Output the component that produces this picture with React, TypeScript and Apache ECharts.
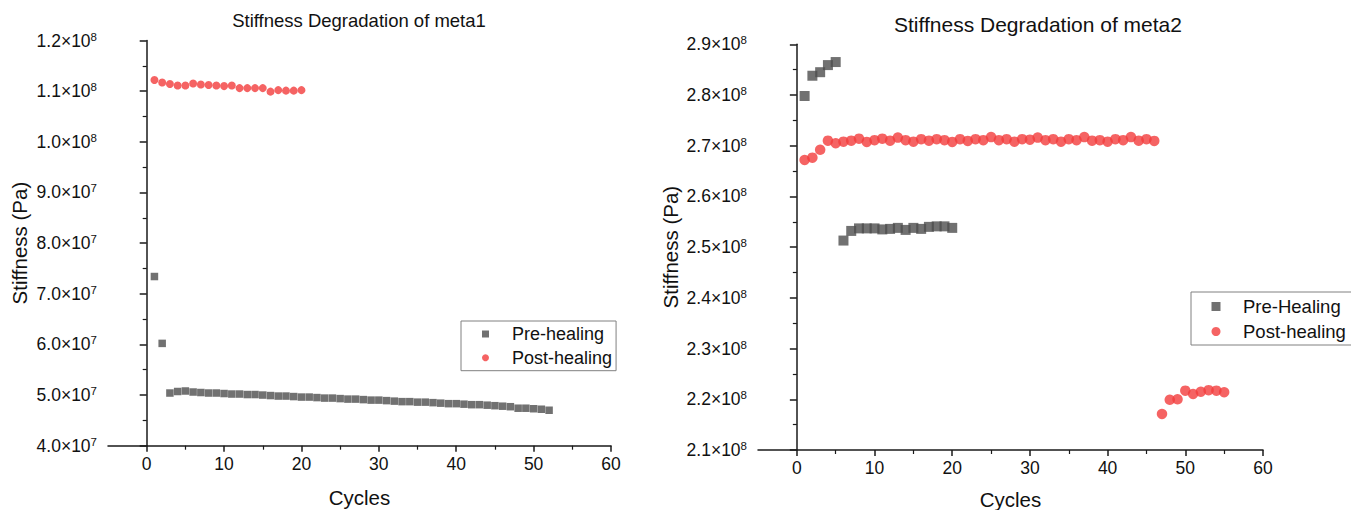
import React, { useEffect, useRef } from 'react';
import * as echarts from 'echarts';

const FONT = '"Liberation Sans", Arial, sans-serif';

// meta1
const meta1PreCycles = [1,2,3,4,5,6,7,8,9,10,11,12,13,14,15,16,17,18,19,20,21,22,23,24,25,26,27,28,29,30,31,32,33,34,35,36,37,38,39,40,41,42,43,44,45,46,47,48,49,50,51,52];
const meta1PreValues = [7.34e7,6.02e7,5.04e7,5.07e7,5.08e7,5.06e7,5.05e7,5.04e7,5.04e7,5.03e7,5.02e7,5.02e7,5.01e7,5.01e7,5.00e7,4.99e7,4.98e7,4.98e7,4.97e7,4.96e7,4.96e7,4.95e7,4.94e7,4.94e7,4.93e7,4.92e7,4.92e7,4.91e7,4.90e7,4.90e7,4.89e7,4.88e7,4.87e7,4.87e7,4.86e7,4.86e7,4.85e7,4.84e7,4.83e7,4.83e7,4.82e7,4.81e7,4.81e7,4.80e7,4.79e7,4.78e7,4.77e7,4.74e7,4.74e7,4.73e7,4.72e7,4.70e7];
const meta1PostCycles = [1,2,3,4,5,6,7,8,9,10,11,12,13,14,15,16,17,18,19,20];
const meta1PostValues = [1.122e8,1.117e8,1.114e8,1.111e8,1.111e8,1.115e8,1.113e8,1.112e8,1.111e8,1.110e8,1.111e8,1.106e8,1.106e8,1.106e8,1.106e8,1.099e8,1.102e8,1.101e8,1.101e8,1.102e8];

// meta2
const meta2PreCycles = [1,2,3,4,5,6,7,8,9,10,11,12,13,14,15,16,17,18,19,20];
const meta2PreValues = [2.798e8,2.838e8,2.845e8,2.859e8,2.865e8,2.513e8,2.532e8,2.537e8,2.537e8,2.537e8,2.535e8,2.536e8,2.538e8,2.534e8,2.538e8,2.536e8,2.540e8,2.541e8,2.541e8,2.538e8];
const meta2PostCycles = [1,2,3,4,5,6,7,8,9,10,11,12,13,14,15,16,17,18,19,20,21,22,23,24,25,26,27,28,29,30,31,32,33,34,35,36,37,38,39,40,41,42,43,44,45,46,47,48,49,50,51,52,53,54,55];
const meta2PostValues = [2.672e8,2.6765e8,2.692e8,2.710e8,2.705e8,2.708e8,2.710e8,2.714e8,2.7075e8,2.711e8,2.714e8,2.710e8,2.716e8,2.711e8,2.708e8,2.713e8,2.710e8,2.713e8,2.711e8,2.7075e8,2.713e8,2.7095e8,2.713e8,2.711e8,2.717e8,2.711e8,2.713e8,2.708e8,2.713e8,2.712e8,2.716e8,2.711e8,2.713e8,2.708e8,2.713e8,2.711e8,2.717e8,2.710e8,2.711e8,2.708e8,2.713e8,2.711e8,2.717e8,2.710e8,2.713e8,2.7095e8,2.171e8,2.199e8,2.200e8,2.217e8,2.2105e8,2.215e8,2.218e8,2.217e8,2.214e8];

const xMajorTicks = [0, 10, 20, 30, 40, 50, 60];
const xMinorTicks = [5, 15, 25, 35, 45, 55];

const PRE_COLOR = '#4d4d4d';
const POST_COLOR = '#f23c3c';
const AXIS_COLOR = '#1a1a1a';

const pairs = (xs: number[], ys: number[]) => xs.map((x, i) => [x, ys[i]]);

const sciLabel = (v: number) => {
  const exp = Math.floor(Math.log10(v) + 1e-9);
  const mant = (v / Math.pow(10, exp)).toFixed(1);
  return `{m|${mant}×10}{e|${exp}}`;
};

const labelRich = {
  m: { fontSize: 17.5, fontFamily: FONT, color: '#111', lineHeight: 20 },
  e: { fontSize: 11.5, fontFamily: FONT, color: '#111', verticalAlign: 'top', lineHeight: 12 },
};

function xAxes(gridIndex: number, nameGap: number) {
  return [
    {
      type: 'value', gridIndex, min: -5, max: 60, position: 'bottom',
      name: 'Cycles', nameLocation: 'middle', nameGap,
      nameTextStyle: { fontSize: 20.5, fontFamily: FONT, color: '#111' },
      axisLine: { show: true, lineStyle: { color: AXIS_COLOR, width: 1.5 } },
      axisTick: { show: true, customValues: xMajorTicks, length: 6, lineStyle: { color: AXIS_COLOR, width: 1.5 } },
      axisLabel: { customValues: xMajorTicks, fontSize: 17.5, fontFamily: FONT, color: '#111', margin: 9 },
      splitLine: { show: false },
    },
    {
      type: 'value', gridIndex, min: -5, max: 60, position: 'bottom', offset: 0,
      axisLine: { show: false },
      axisTick: { show: true, customValues: xMinorTicks, length: 4, lineStyle: { color: AXIS_COLOR, width: 1.2 } },
      axisLabel: { show: false },
      splitLine: { show: false },
    },
  ];
}

function yAxis(gridIndex: number, min: number, max: number, nameGap: number) {
  return {
    type: 'value', gridIndex, min, max, interval: 1e7,
    name: 'Stiffness (Pa)', nameLocation: 'middle', nameGap,
    nameTextStyle: { fontSize: 20.5, fontFamily: FONT, color: '#111' },
    axisLine: { show: true, lineStyle: { color: AXIS_COLOR, width: 1.5 } },
    axisTick: { show: true, length: 7, lineStyle: { color: AXIS_COLOR, width: 1.5 } },
    minorTick: { show: true, splitNumber: 2, length: 4, lineStyle: { color: AXIS_COLOR, width: 1.2 } },
    axisLabel: { formatter: sciLabel, rich: labelRich, margin: 11 },
    splitLine: { show: false },
    minorSplitLine: { show: false },
  };
}

export default function App() {
  const ref = useRef<HTMLDivElement>(null);
  useEffect(() => {
    document.body.style.margin = '0';
    if (!ref.current) return;
    const chart = echarts.init(ref.current, undefined, { renderer: 'svg' });
    chart.setOption({
      animation: false,
      backgroundColor: '#ffffff',
      title: [
        {
          text: 'Stiffness Degradation of meta1', left: 359, top: 11, textAlign: 'center', padding: 0,
          textStyle: { fontSize: 18.5, fontWeight: 'normal', fontFamily: FONT, color: '#111' },
        },
        {
          text: 'Stiffness Degradation of meta2', left: 1038, top: 13.5, textAlign: 'center', padding: 0,
          textStyle: { fontSize: 21, fontWeight: 'normal', fontFamily: FONT, color: '#111' },
        },
      ],
      grid: [
        { left: 108, right: 1351 - 611, top: 40.5, bottom: 510 - 445.7, containLabel: false, outerBoundsMode: 'none' },
        { left: 758, right: 1351 - 1263, top: 44.3, bottom: 510 - 450, containLabel: false, outerBoundsMode: 'none' },
      ],
      xAxis: [...xAxes(0, 41), ...xAxes(1, 38.5)],
      yAxis: [yAxis(0, 4e7, 1.2e8, 78), yAxis(1, 2.1e8, 2.9e8, 77)],
      legend: [
        {
          left: 461, top: 321, orient: 'vertical',
          data: [{ name: 'Pre-healing', icon: 'rect' }, { name: 'Post-healing', icon: 'circle' }],
          itemWidth: 7, itemHeight: 7, itemGap: 5.7,
          padding: [4, 4, 4, 21],
          borderColor: '#808080', borderWidth: 1,
          textStyle: { fontSize: 18, fontFamily: FONT, color: '#111', padding: [0, 0, 0, 18] },
        },
        {
          left: 1191, top: 292, orient: 'vertical',
          data: [{ name: 'Pre-Healing', icon: 'rect' }, { name: 'Post-healing', icon: 'circle' }],
          itemWidth: 9, itemHeight: 9, itemGap: 6,
          padding: [5, 10, 4, 20.5],
          borderColor: '#808080', borderWidth: 1,
          textStyle: { fontSize: 18.5, fontFamily: FONT, color: '#111', padding: [0, 0, 0, 17.5] },
        },
      ],
      series: [
        {
          name: 'Pre-healing', type: 'scatter', xAxisIndex: 0, yAxisIndex: 0,
          symbol: 'rect', symbolSize: 7.5, itemStyle: { color: PRE_COLOR },
          data: pairs(meta1PreCycles, meta1PreValues),
        },
        {
          name: 'Post-healing', type: 'scatter', xAxisIndex: 0, yAxisIndex: 0,
          symbol: 'circle', symbolSize: 8, itemStyle: { color: POST_COLOR },
          data: pairs(meta1PostCycles, meta1PostValues),
        },
        {
          name: 'Pre-Healing', type: 'scatter', xAxisIndex: 2, yAxisIndex: 1,
          symbol: 'rect', symbolSize: 10, itemStyle: { color: PRE_COLOR },
          data: pairs(meta2PreCycles, meta2PreValues),
        },
        {
          name: 'Post-healing', type: 'scatter', xAxisIndex: 2, yAxisIndex: 1,
          symbol: 'circle', symbolSize: 10.5, itemStyle: { color: POST_COLOR },
          data: pairs(meta2PostCycles, meta2PostValues),
        },
      ],
    });
    return () => chart.dispose();
  }, []);
  return <div ref={ref} style={{ position: 'absolute', left: 0, top: 0, width: 1351, height: 510 }} />;
}
